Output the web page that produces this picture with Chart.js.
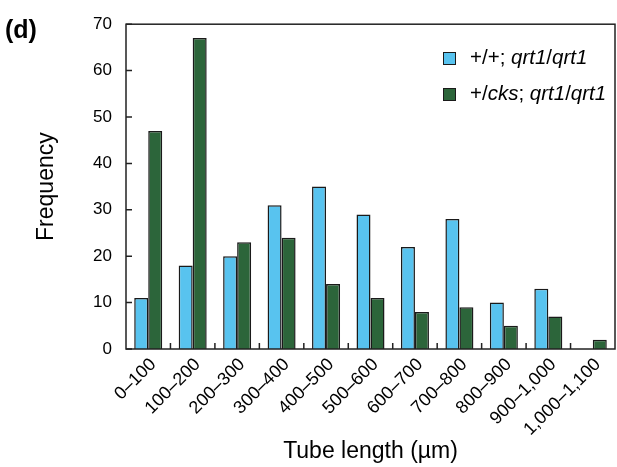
<!DOCTYPE html>
<html lang="en">
<head>
    <meta charset="UTF-8">
    <title>Tube length histogram</title>
    <script src="https://cdn.jsdelivr.net/npm/chart.js"></script>
    <style>
        body {
            margin: 0;
            background: #fff;
            font-family: "Liberation Sans", Arial, sans-serif;
        }
        .wrap {
            position: relative;
            width: 617px;
            height: 467px;
        }
        .panel {
            position: absolute;
            left: 5px;
            top: 17px;
            font-size: 25px;
            font-weight: bold;
            line-height: 1;
            color: #000;
        }
        .legend {
            position: absolute;
            left: 443px;
            top: 43px;
            font-size: 20.5px;
            color: #000;
        }
        .legend div {
            height: 36px;
            line-height: 28px;
            white-space: nowrap;
        }
        .legend span.sw {
            display: inline-block;
            width: 11px;
            height: 11px;
            border: 1.5px solid #1a1a1a;
            margin-right: 14px;
            vertical-align: -1px;
        }
    </style>
</head>
<body>

<div class="wrap">
    <canvas id="histChart"></canvas>
    <div class="panel">(d)</div>
    <div class="legend">
        <div><span class="sw" style="background:#58c3ef"></span>+/+; <i>qrt1</i>/<i>qrt1</i></div>
        <div><span class="sw" style="background:#2c653a"></span>+/<i>cks</i>; <i>qrt1</i>/<i>qrt1</i></div>
    </div>
</div>

<script>
    // --- Data ---
    const categories = ['0\u2013100', '100\u2013200', '200\u2013300', '300\u2013400', '400\u2013500',
        '500\u2013600', '600\u2013700', '700\u2013800', '800\u2013900', '900\u20131,000', '1,000\u20131,100'];

    // +/+; qrt1/qrt1 (light blue)
    const wildType = [11, 18, 20, 31, 35, 29, 22, 28, 10, 13, 0];
    // +/cks; qrt1/qrt1 (dark green)
    const cksHet = [47, 67, 23, 24, 14, 11, 8, 9, 5, 7, 2];

    const yTicks = [0, 10, 20, 30, 40, 50, 60, 70];

    const FONT = '"Liberation Sans", Arial, sans-serif';

    // frame around plot area + short inward tick marks
    const frameTicks = {
        id: 'frameTicks',
        afterDraw(chart) {
            const ctx = chart.ctx;
            const a = chart.chartArea;
            const xs = chart.scales.x;
            const ys = chart.scales.y;
            ctx.save();
            ctx.strokeStyle = '#222';
            ctx.lineWidth = 1.5;
            ctx.beginPath();
            // x ticks between categories
            for (let i = 1; i < categories.length; i++) {
                const px = (xs.getPixelForTick(i - 1) + xs.getPixelForTick(i)) / 2;
                ctx.moveTo(px, a.bottom);
                ctx.lineTo(px, a.bottom - 6);
            }
            // y ticks
            yTicks.forEach(v => {
                const py = ys.getPixelForValue(v);
                ctx.moveTo(a.left, py);
                ctx.lineTo(a.left + 6, py);
            });
            ctx.stroke();
            ctx.strokeRect(a.left, a.top, a.right - a.left, a.bottom - a.top);
            ctx.restore();
        }
    };

    const config = {
        type: 'bar',
        data: {
            labels: categories,
            datasets: [
                {
                    label: '+/+; qrt1/qrt1',
                    data: wildType,
                    backgroundColor: '#58c3ef',
                    borderColor: '#1a1a1a',
                    borderWidth: 1.5
                },
                {
                    label: '+/cks; qrt1/qrt1',
                    data: cksHet,
                    backgroundColor: '#2c653a',
                    borderColor: '#1a1a1a',
                    borderWidth: 1.5
                }
            ]
        },
        options: {
            responsive: true,
            maintainAspectRatio: false,
            animation: false,
            layout: {
                padding: { top: 22, right: 2, left: 0, bottom: 0 }
            },
            datasets: {
                bar: {
                    categoryPercentage: 0.63,
                    barPercentage: 1.0
                }
            },
            plugins: {
                legend: { display: false },
                tooltip: { enabled: false }
            },
            scales: {
                x: {
                    afterFit: (scale) => { scale.height = 118; },
                    grid: { display: false, drawTicks: false },
                    border: { display: false },
                    ticks: {
                        autoSkip: false,
                        minRotation: 45,
                        maxRotation: 45,
                        padding: 5,
                        labelOffset: 5,
                        color: '#000',
                        font: { family: FONT, size: 18 }
                    },
                    title: {
                        display: true,
                        text: 'Tube length (\u00b5m)',
                        color: '#000',
                        font: { family: FONT, size: 23 },
                        padding: { top: 0, bottom: 2 }
                    }
                },
                y: {
                    min: 0,
                    max: 70,
                    afterFit: (scale) => { scale.width = 126; },
                    afterBuildTicks: (scale) => { scale.ticks = yTicks.map(v => ({ value: v })); },
                    grid: { display: false, drawTicks: false },
                    border: { display: false },
                    ticks: {
                        padding: 14,
                        color: '#000',
                        font: { family: FONT, size: 17 }
                    },
                    title: {
                        display: true,
                        text: 'Frequency',
                        color: '#000',
                        font: { family: FONT, size: 23 },
                        padding: { top: 33, bottom: 0 }
                    }
                }
            }
        },
        plugins: [frameTicks]
    };

    new Chart(document.getElementById('histChart'), config);
</script>

</body>
</html>
